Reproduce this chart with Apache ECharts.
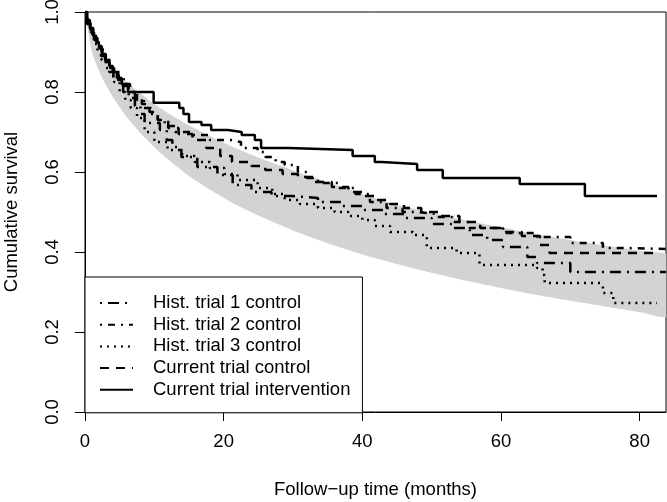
<!DOCTYPE html>
<html>
<head>
<meta charset="utf-8">
<script src="https://cdn.jsdelivr.net/npm/echarts@6/dist/echarts.min.js"></script>
<style>
html,body{margin:0;padding:0;background:#fff;}
#chart{width:667px;height:502px;}
</style>
</head>
<body>
<div id="chart"></div>
<script>
// ---- data ----
const xTicks = [0, 20, 40, 60, 80];
const yTicks = [0, 0.2, 0.4, 0.6, 0.8, 1.0];

const bandT     = [0, 1, 2, 3, 4, 5, 6, 8, 10, 12, 15, 18, 21, 25, 30, 35, 40, 45, 50, 55, 60, 65, 70, 75, 80, 84];
const bandUpper = [1, 0.937, 0.905, 0.881, 0.86, 0.842, 0.825, 0.796, 0.77, 0.747, 0.717, 0.69, 0.665, 0.636, 0.604, 0.575, 0.545, 0.518, 0.498, 0.479, 0.462, 0.445, 0.43, 0.416, 0.403, 0.393];
const bandLower = [1, 0.90, 0.854, 0.818, 0.788, 0.762, 0.738, 0.697, 0.662, 0.631, 0.59, 0.556, 0.525, 0.491, 0.454, 0.422, 0.394, 0.37, 0.348, 0.328, 0.31, 0.293, 0.278, 0.264, 0.25, 0.238];

const hist1 = [[0,1],[0.3,0.97],[0.8,0.95],[1.3,0.93],[1.8,0.91],[2.3,0.89],[2.9,0.87],[3.5,0.85],[4.1,0.835],[4.8,0.82],[5.5,0.80],[6.3,0.785],[7.2,0.765],[8.0,0.745],[8.6,0.7225],[10.8,0.705],[11.8,0.68],[12.6,0.6625],[13.9,0.6375],[16.2,0.6125],[19.1,0.5925],[21.3,0.5675],[24,0.55],[26.9,0.54],[29.8,0.535],[33.6,0.525],[37,0.515],[40,0.505],[43,0.495],[46,0.485],[50,0.47],[53,0.46],[55.5,0.4425],[58,0.43],[60.3,0.4125],[63.8,0.3875],[65.2,0.3725],[70,0.35],[83.8,0.35]];
const hist2 = [[0,1],[0.3,0.975],[0.8,0.955],[1.3,0.94],[1.8,0.92],[2.3,0.905],[2.9,0.885],[3.5,0.87],[4.1,0.855],[4.8,0.84],[5.6,0.82],[6.5,0.80],[7.5,0.78],[8.5,0.76],[9.5,0.745],[10.5,0.73],[11.5,0.715],[13,0.70],[15.5,0.6925],[18,0.68],[21,0.675],[22.5,0.66],[24.9,0.65],[26,0.6375],[27.5,0.625],[28.8,0.6175],[30.7,0.60],[32,0.585],[33.6,0.5725],[36.5,0.56],[39,0.545],[41.1,0.525],[43.5,0.51],[45.8,0.50],[48,0.495],[50.7,0.4875],[53,0.475],[55.5,0.46],[60.3,0.4475],[65.2,0.4375],[70,0.4225],[74.7,0.41],[78,0.4075],[83.8,0.4075]];
const hist3 = [[0,1],[0.3,0.97],[0.8,0.945],[1.3,0.92],[1.8,0.90],[2.4,0.88],[3.0,0.86],[3.6,0.84],[4.2,0.825],[5.0,0.80],[5.8,0.78],[6.6,0.76],[7.5,0.735],[8.6,0.70],[10,0.675],[11.9,0.655],[14,0.64],[15.8,0.625],[18,0.61],[20.1,0.595],[22,0.58],[24.9,0.56],[27,0.545],[28.8,0.53],[31,0.52],[33.6,0.51],[36,0.50],[38,0.49],[40,0.48],[41.8,0.465],[44,0.45],[47.3,0.4425],[49.3,0.41],[53.6,0.3975],[56.9,0.3675],[65.2,0.36],[66,0.3425],[66.3,0.3225],[74.3,0.3175],[74.7,0.2975],[76.2,0.2725],[82.5,0.2725]];
const currentControl = [[0,1],[0.3,0.975],[0.8,0.955],[1.3,0.935],[1.8,0.915],[2.4,0.895],[3.0,0.875],[3.6,0.86],[4.2,0.845],[4.8,0.83],[5.5,0.815],[6.3,0.80],[7.2,0.785],[8.2,0.77],[9.3,0.75],[10.5,0.73],[12.0,0.71],[13.5,0.695],[15.5,0.68],[17.5,0.66],[19.5,0.64],[21.2,0.625],[24,0.615],[26,0.605],[28.5,0.595],[30.7,0.5875],[33,0.575],[35.6,0.5625],[38,0.55],[40,0.54],[41.8,0.53],[44,0.52],[46,0.51],[48.5,0.5],[51,0.49],[54,0.475],[57,0.46],[60,0.45],[63,0.44],[65.6,0.4175],[67,0.3975],[82.7,0.3975]];
const currentIntervention = [[0,1],[0.3,0.98],[0.7,0.96],[1.2,0.94],[1.6,0.925],[2.0,0.91],[2.5,0.895],[3.0,0.88],[3.5,0.865],[4.0,0.85],[4.6,0.835],[5.3,0.82],[6.2,0.80],[9.9,0.773],[13.6,0.76],[14.2,0.745],[15.0,0.725],[16.8,0.7175],[18.2,0.705],[20.6,0.70],[22.6,0.6925],[24.5,0.68],[25.4,0.66],[29.3,0.655],[38.6,0.64],[41.8,0.625],[42.8,0.62],[47.9,0.605],[51.6,0.585],[62.7,0.57],[72.1,0.54],[82.5,0.54]];

const seriesNames = ['Hist. trial 1 control', 'Hist. trial 2 control', 'Hist. trial 3 control', 'Current trial control', 'Current trial intervention'];

// ---- build ----
const FONT = "'Liberation Sans', Arial, Helvetica, sans-serif";
const FS = 18.5;
const LW = 2.5;

function bandRender(params, api) {
  const pts = [];
  for (let i = 0; i < bandT.length; i++) pts.push(api.coord([bandT[i], bandUpper[i]]));
  for (let i = bandT.length - 1; i >= 0; i--) pts.push(api.coord([bandT[i], bandLower[i]]));
  return {
    type: 'polygon',
    shape: { points: pts, smooth: 0.15 },
    style: { fill: '#d3d3d3', stroke: null },
    silent: true
  };
}

function km(name, data, dash) {
  return {
    name: name, type: 'line', data: data, step: 'end',
    symbol: 'none', showSymbol: false, z: 5,
    lineStyle: { color: '#000', width: LW, type: dash, cap: 'butt' },
    itemStyle: { color: '#000' },
    silent: true
  };
}

const chart = echarts.init(document.getElementById('chart'), null, { renderer: 'canvas' });
chart.setOption({
  animation: false,
  backgroundColor: '#fff',
  textStyle: { fontFamily: FONT, color: '#000' },
  grid: { left: 85, right: 1, top: 12, bottom: 90, show: true, borderColor: '#000', borderWidth: 1, backgroundColor: 'transparent', outerBoundsMode: 'none', containLabel: false },
  xAxis: {
    type: 'value', min: 0, max: 83.8,
    name: 'Follow\u2212up time (months)', nameLocation: 'middle', nameGap: 68,
    nameTextStyle: { fontFamily: FONT, fontSize: FS, color: '#000' },
    axisLine: { show: true, onZero: false, lineStyle: { color: '#000', width: 1 } },
    axisTick: { show: true, length: 9, lineStyle: { color: '#000' }, customValues: xTicks },
    axisLabel: { fontFamily: FONT, fontSize: FS, color: '#000', margin: 20, customValues: xTicks, formatter: v => String(v) },
    splitLine: { show: false }
  },
  yAxis: {
    type: 'value', min: 0, max: 1,
    name: 'Cumulative survival', nameLocation: 'middle', nameGap: 64, nameRotate: 90,
    nameTextStyle: { fontFamily: FONT, fontSize: FS, color: '#000' },
    axisLine: { show: true, onZero: false, lineStyle: { color: '#000', width: 1 } },
    axisTick: { show: true, length: 10, lineStyle: { color: '#000' }, customValues: yTicks },
    axisLabel: { fontFamily: FONT, fontSize: FS, color: '#000', margin: 23, rotate: 90, customValues: yTicks, formatter: v => v.toFixed(1) },
    splitLine: { show: false }
  },
  legend: {
    data: seriesNames,
    orient: 'vertical', left: 85, top: 277,
    backgroundColor: '#fff', borderColor: '#000', borderWidth: 1, borderRadius: 0,
    padding: [16, 12, 13, 14],
    itemWidth: 33, itemHeight: 14, itemGap: 1.7,
    selectedMode: false,
    itemStyle: { color: 'rgba(0,0,0,0)', borderColor: 'rgba(0,0,0,0)', borderWidth: 0, opacity: 0 },
    textStyle: { fontFamily: FONT, fontSize: FS, color: '#000', lineHeight: 20, padding: [0, 0, 0, 15] }
  },
  series: [
    { name: 'band', type: 'custom', renderItem: bandRender, data: [[0, 0]], silent: true, z: 1, clip: true },
    km(seriesNames[0], hist1, [2, 6, 11, 6]),
    km(seriesNames[1], hist2, [2, 6, 7, 6]),
    km(seriesNames[2], hist3, [2, 5]),
    km(seriesNames[3], currentControl, [9, 7]),
    km(seriesNames[4], currentIntervention, 'solid')
  ]
});
</script>
</body>
</html>
